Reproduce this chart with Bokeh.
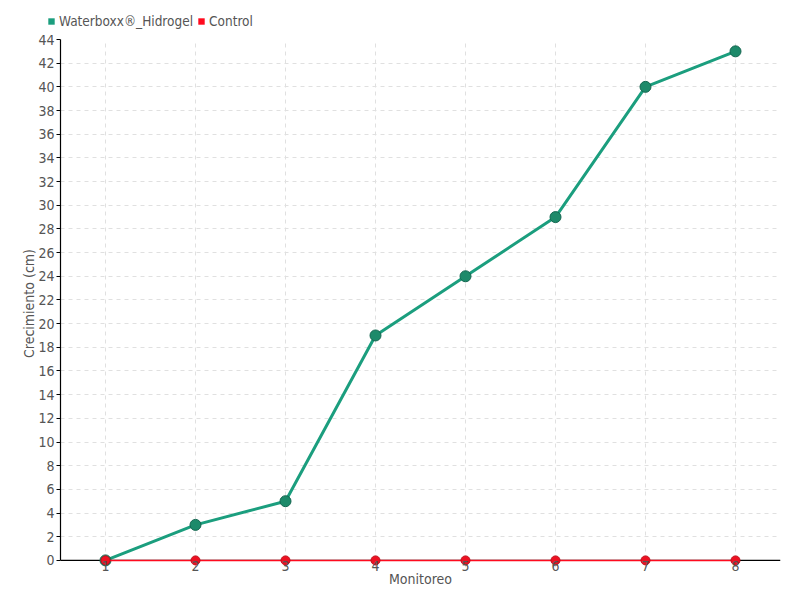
from bokeh.plotting import figure
from bokeh.models import ColumnDataSource, Legend, LegendItem, FixedTicker, Range1d, Span
from bokeh.layouts import column
from bokeh.embed import file_html
from bokeh.resources import INLINE

monitoreo = [1, 2, 3, 4, 5, 6, 7, 8]
waterboxx = [0, 3, 5, 19, 24, 29, 40, 43]
control = [0, 0, 0, 0, 0, 0, 0, 0]
y_ticks = list(range(0, 45, 2))
series_names = ["Waterboxx®_Hidrogel", "Control"]

FONT = "DejaVu Sans Condensed"
GRAY = "#555555"
GREEN = "#1b9e7e"
RED = "#ff0a1e"

# ---- main plot ----
p = figure(width=800, height=570, output_backend="svg", toolbar_location=None,
           x_range=Range1d(0.5, 8.5), y_range=Range1d(-0.6, 44),
           min_border_left=60, min_border_right=20, min_border_top=9, min_border_bottom=33)
p.outline_line_color = None
p.frame_align = False

baseline = Span(location=0, dimension="width", line_color="black", line_width=1.2, level="underlay")
p.add_layout(baseline)

src_w = ColumnDataSource(dict(x=monitoreo, y=waterboxx))
src_c = ColumnDataSource(dict(x=monitoreo, y=control))

p.line("x", "y", source=src_w, line_color=GREEN, line_width=3)
p.scatter("x", "y", source=src_w, size=11, fill_color="#1d8a6a", line_color="#146650", line_width=1)
p.line("x", "y", source=src_c, line_color=RED, line_width=1.5)
p.scatter("x", "y", source=src_c, size=9, fill_color="#ee1122", line_color="#c0101c", line_width=1)

for ax in (p.xaxis[0], p.yaxis[0]):
    ax.axis_line_color = "black"
    ax.axis_line_width = 1.2
    ax.major_tick_line_color = "black"
    ax.major_tick_in = 0
    ax.major_tick_out = 4
    ax.minor_tick_line_color = None
    ax.major_label_text_font = FONT
    ax.major_label_text_font_size = "14px"
    ax.major_label_text_color = GRAY
    ax.axis_label_text_font = FONT
    ax.axis_label_text_font_size = "14px"
    ax.axis_label_text_color = GRAY
    ax.axis_label_text_font_style = "normal"

p.xaxis.ticker = FixedTicker(ticks=monitoreo)
p.yaxis.ticker = FixedTicker(ticks=y_ticks)
p.xaxis.axis_label = "Monitoreo"
p.yaxis.axis_label = "Crecimiento (cm)"
p.xaxis.axis_line_color = None
p.xaxis.major_tick_line_color = None
p.xaxis.major_tick_out = 0
p.xaxis.major_label_standoff = -7
p.xaxis.axis_label_standoff = -3
p.yaxis.major_label_standoff = 2
p.yaxis.axis_label_standoff = -2
p.yaxis.bounds = (0, 44)

p.xgrid.grid_line_color = "#e0e0e0"
p.ygrid.grid_line_color = "#e0e0e0"
p.xgrid.grid_line_dash = "4 4"
p.ygrid.grid_line_dash = "4 4"
p.xgrid.bounds = (0, 44)

# ---- legend strip ----
lp = figure(width=800, height=30, output_backend="svg", toolbar_location=None,
            x_axis_type=None, y_axis_type=None, x_range=Range1d(0, 1), y_range=Range1d(0, 1),
            min_border_left=0, min_border_right=0, min_border_top=0, min_border_bottom=0)
lp.outline_line_color = None
lp.grid.visible = False
lp.frame_align = False
nan = float("nan")
kw = lp.scatter(x=[nan], y=[nan], marker="square", size=7, fill_color=GREEN, line_color=None)
kc = lp.scatter(x=[nan], y=[nan], marker="square", size=7, fill_color=RED, line_color=None)

legend = Legend(items=[LegendItem(label=series_names[0], renderers=[kw]),
                       LegendItem(label=series_names[1], renderers=[kc])],
                orientation="horizontal", location=(43, 1),
                label_text_font=FONT, label_text_font_size="13.5px", label_text_color=GRAY,
                label_height=16, glyph_width=16, glyph_height=16, label_standoff=0, spacing=0,
                padding=0, margin=0, background_fill_alpha=0, border_line_color=None)
lp.add_layout(legend, "center")

layout = column(lp, p, spacing=0)
open("out.html", "w").write(file_html(layout, INLINE))
